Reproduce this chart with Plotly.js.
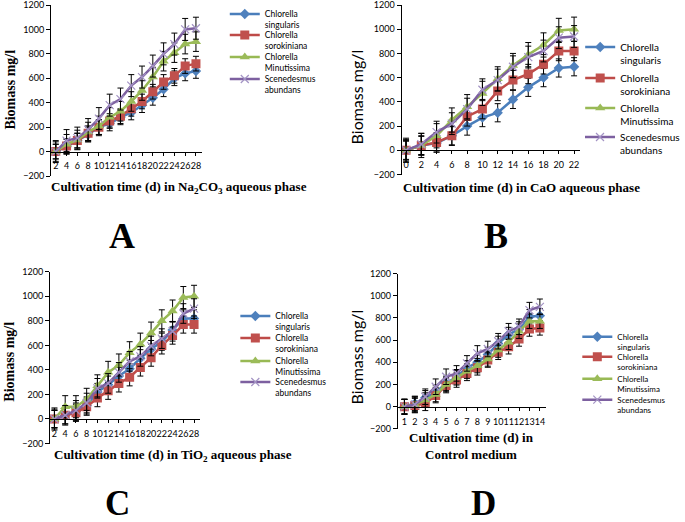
<!DOCTYPE html>
<html>
<head>
<meta charset="utf-8">
<script src="https://cdn.plot.ly/plotly-3.0.1.min.js"></script>
<style>html,body{margin:0;padding:0;background:#fff}#chart{width:685px;height:522px}</style>
</head>
<body>
<div id="chart"></div>
<script>
// ---- data ----
const seriesNames = ['Chlorella<br>singularis', 'Chlorella<br>sorokiniana', 'Chlorella<br>Minutissima', 'Scenedesmus<br>abundans'];

const daysNa = [2, 4, 6, 8, 10, 12, 14, 16, 18, 20, 22, 24, 26, 28];
const naSingularis  = [0, 40, 90, 140, 200, 230, 280, 320, 380, 440, 510, 600, 640, 660];
const naSorokiniana = [0, 45, 90, 150, 200, 250, 290, 350, 410, 490, 570, 620, 700, 720];
const naMinutissima = [0, 60, 95, 160, 210, 280, 330, 410, 500, 610, 740, 810, 880, 900];
const naScenedesmus = [0, 90, 110, 180, 270, 380, 430, 540, 610, 700, 800, 880, 1000, 1010];
const naErrSing = [60, 60, 60, 60, 60, 60, 60, 60, 60, 60, 60, 60, 60, 60];
const naErrSoro = [60, 60, 60, 60, 60, 60, 60, 60, 60, 60, 60, 60, 60, 60];
const naErrMinu = [80, 80, 80, 80, 80, 80, 80, 80, 80, 80, 80, 80, 80, 80];
const naErrScen = [90, 90, 90, 90, 90, 90, 90, 90, 90, 90, 90, 90, 90, 90];

const daysCa = [0, 2, 4, 6, 8, 10, 12, 14, 16, 18, 20, 22];
const caSingularis  = [0, 40, 60, 120, 200, 270, 310, 420, 520, 600, 680, 690];
const caSorokiniana = [0, 40, 65, 120, 280, 340, 490, 580, 630, 710, 820, 820];
const caMinutissima = [0, 40, 120, 250, 360, 470, 590, 700, 790, 870, 990, 1000];
const caScenedesmus = [0, 50, 150, 220, 340, 500, 580, 690, 770, 820, 930, 940];
const caErrSing = [75, 75, 75, 75, 75, 75, 75, 75, 75, 75, 75, 75];
const caErrSoro = [80, 80, 80, 80, 80, 80, 80, 80, 80, 80, 80, 80];
const caErrMinu = [100, 100, 100, 100, 100, 100, 100, 100, 100, 100, 100, 100];
const caErrScen = [90, 90, 90, 90, 90, 90, 90, 90, 90, 90, 90, 90];

const daysTi = [2, 4, 6, 8, 10, 12, 14, 16, 18, 20, 22, 24, 26, 28];
const tiSingularis  = [0, 30, 60, 110, 220, 280, 350, 410, 495, 570, 630, 725, 820, 820];
const tiSorokiniana = [0, 30, 50, 100, 170, 230, 290, 340, 420, 500, 600, 680, 770, 770];
const tiMinutissima = [0, 100, 100, 160, 270, 380, 440, 540, 610, 700, 800, 880, 990, 1000];
const tiScenedesmus = [0, 30, 70, 130, 250, 290, 380, 470, 510, 595, 655, 715, 860, 900];
const tiErrSing = [70, 70, 70, 70, 70, 70, 70, 70, 70, 70, 70, 70, 70, 70];
const tiErrSoro = [70, 70, 70, 70, 70, 70, 70, 70, 70, 70, 70, 70, 70, 70];
const tiErrMinu = [90, 90, 90, 90, 90, 90, 90, 90, 90, 90, 90, 90, 90, 90];
const tiErrScen = [80, 80, 80, 80, 80, 80, 80, 80, 80, 80, 80, 80, 80, 80];

const daysCt = [1, 2, 3, 4, 5, 6, 7, 8, 9, 10, 11, 12, 13, 14];
const ctSingularis  = [0, 30, 80, 130, 210, 270, 350, 400, 470, 570, 650, 700, 810, 820];
const ctSorokiniana = [0, 10, 30, 100, 190, 240, 300, 350, 420, 490, 540, 610, 700, 710];
const ctMinutissima = [0, 20, 60, 110, 200, 260, 320, 370, 430, 510, 580, 680, 770, 770];
const ctScenedesmus = [0, 20, 90, 180, 270, 300, 390, 480, 520, 590, 680, 720, 870, 900];
const ctErrSing = [65, 65, 65, 65, 65, 65, 65, 65, 65, 65, 65, 65, 65, 65];
const ctErrSoro = [65, 65, 65, 65, 65, 65, 65, 65, 65, 65, 65, 65, 65, 65];
const ctErrMinu = [65, 65, 65, 65, 65, 65, 65, 65, 65, 65, 65, 65, 65, 65];
const ctErrScen = [70, 70, 70, 70, 70, 70, 70, 70, 70, 70, 70, 70, 70, 70];

// ---- styles ----
const W = 685, H = 522;
const fx = p => p / W;
const fy = p => 1 - p / H;
const lineColors = ['#4A7EBB', '#BE4B48', '#98B954', '#7D60A0'];
const markerStyles = [
  {symbol: 'diamond', size: 8, color: '#4F81BD', line: {width: 0}},
  {symbol: 'square', size: 9, color: '#C0504D', line: {width: 0}},
  {symbol: 'triangle-up', size: 9, color: '#9BBB59', line: {width: 0}},
  {symbol: 'x-thin', size: 8, color: '#A393C4', line: {width: 1.2, color: '#A393C4'}}
];

let legendCount = 1;
function mk(x, y, err, i, xa, ya) {
  legendCount += 1;
  return {
    type: 'scatter', mode: 'lines+markers', x: x, y: y, name: seriesNames[i],
    xaxis: xa, yaxis: ya, legend: 'legend' + legendCount,
    line: {color: lineColors[i], width: 2.5},
    marker: markerStyles[i],
    error_y: {type: 'data', array: err, visible: true, color: '#000', thickness: 1, width: 3}
  };
}

const traces = [
  mk(daysNa, naSingularis, naErrSing, 0, 'x', 'y'),
  mk(daysNa, naSorokiniana, naErrSoro, 1, 'x', 'y'),
  mk(daysNa, naMinutissima, naErrMinu, 2, 'x', 'y'),
  mk(daysNa, naScenedesmus, naErrScen, 3, 'x', 'y'),
  mk(daysCa, caSingularis, caErrSing, 0, 'x2', 'y2'),
  mk(daysCa, caSorokiniana, caErrSoro, 1, 'x2', 'y2'),
  mk(daysCa, caMinutissima, caErrMinu, 2, 'x2', 'y2'),
  mk(daysCa, caScenedesmus, caErrScen, 3, 'x2', 'y2'),
  mk(daysTi, tiSingularis, tiErrSing, 0, 'x3', 'y3'),
  mk(daysTi, tiSorokiniana, tiErrSoro, 1, 'x3', 'y3'),
  mk(daysTi, tiMinutissima, tiErrMinu, 2, 'x3', 'y3'),
  mk(daysTi, tiScenedesmus, tiErrScen, 3, 'x3', 'y3'),
  mk(daysCt, ctSingularis, ctErrSing, 0, 'x4', 'y4'),
  mk(daysCt, ctSorokiniana, ctErrSoro, 1, 'x4', 'y4'),
  mk(daysCt, ctMinutissima, ctErrMinu, 2, 'x4', 'y4'),
  mk(daysCt, ctScenedesmus, ctErrScen, 3, 'x4', 'y4')
];

const tickFont = {family: 'Lato, Liberation Sans, sans-serif', size: 9, color: '#000'};
const YMIN = -200, YMAX = 1200;

function yAx(top, bottom, anchor) {
  return {
    domain: [fy(bottom), fy(top)], range: [YMIN, YMAX], dtick: 200, anchor: anchor,
    showgrid: false, zeroline: false, showline: true, linecolor: '#000', linewidth: 1,
    ticks: 'outside', ticklen: 4, tickcolor: '#000', tickfont: tickFont,
    ticklabeloverflow: 'allow', fixedrange: true
  };
}
function xAx(left, right, range, dtick, top, bottom) {
  const d0 = fy(bottom), d1 = fy(top);
  return {
    domain: [fx(left), fx(right)], range: range, dtick: dtick, anchor: 'free',
    position: d0 + (d1 - d0) * (0 - YMIN) / (YMAX - YMIN),
    showgrid: false, zeroline: false, showline: true, linecolor: '#000', linewidth: 1,
    ticks: 'outside', ticklen: 3, tickcolor: '#000', tickfont: tickFont, tickangle: 0,
    ticklabelstandoff: 3, ticklabeloverflow: 'allow', fixedrange: true
  };
}

const serifBold = {family: 'Liberation Serif, Times New Roman, serif', size: 13, color: '#000', weight: 700};
const sansTitle = {family: 'Lato, Liberation Sans, sans-serif', size: 16, color: '#000'};

function ann(text, xp, yp, font, angle) {
  return {text: text, x: fx(xp), y: fy(yp), xref: 'paper', yref: 'paper',
    xanchor: 'center', yanchor: 'middle', showarrow: false, font: font, textangle: angle || 0};
}

function legendCfg(xp, yp, size) {
  return {x: fx(xp), y: fy(yp), xanchor: 'left', yanchor: 'top', bgcolor: 'rgba(0,0,0,0)',
    borderwidth: 0, valign: 'top', itemclick: false, itemdoubleclick: false,
    font: {family: 'Lato, Liberation Sans, sans-serif', size: size, color: '#000'}};
}

const layout = {
  width: W, height: H, margin: {l: 0, r: 0, t: 0, b: 0},
  paper_bgcolor: '#fff', plot_bgcolor: 'rgba(0,0,0,0)', showlegend: true,
  xaxis:  xAx(53, 210, [1.1, 29.07], 2, 5, 176),
  yaxis:  yAx(5, 176, 'x'),
  xaxis2: xAx(418, 604, [-0.59, 22.8], 2, 5, 174.5),
  yaxis2: yAx(5, 174.5, 'x2'),
  xaxis3: xAx(52, 208, [1.16, 29.07], 2, 271.8, 443.5),
  yaxis3: yAx(271.8, 443.5, 'x3'),
  xaxis4: xAx(414, 568, [0.35, 14.55], 1, 273.5, 428.9),
  yaxis4: yAx(273.5, 428.9, 'x4'),
  // one legend per entry so the spacing can follow the reference
  legend2:  legendCfg(234, 2, 8.5),
  legend3:  legendCfg(234, 23, 8.5),
  legend4:  legendCfg(234, 45, 8.5),
  legend5:  legendCfg(234, 67, 8.5),
  legend6:  legendCfg(604, 34, 10),
  legend7:  legendCfg(604, 65, 10),
  legend8:  legendCfg(604, 95, 10),
  legend9:  legendCfg(604, 124, 10),
  legend10: legendCfg(245, 304, 8.5),
  legend11: legendCfg(245, 326, 8.5),
  legend12: legendCfg(245, 349, 8.5),
  legend13: legendCfg(245, 370, 8.5),
  legend14: legendCfg(601, 325, 8),
  legend15: legendCfg(601, 345, 8),
  legend16: legendCfg(601, 367, 8),
  legend17: legendCfg(601, 388, 8),
  annotations: [
    ann('Cultivation time (d) in Na<sub>2</sub>CO<sub>3</sub> aqueous phase', 186, 188, serifBold),
    ann('Cultivation time (d) in CaO aqueous phase', 543, 187, serifBold),
    ann('Cultivation time (d) in TiO<sub>2</sub> aqueous phase', 180, 455, serifBold),
    ann('Cultivation time (d) in<br>Control medium', 491, 446, serifBold),
    ann('Biomass mg/l', 10, 90, Object.assign({}, serifBold, {size: 14}), -90),
    ann('Biomass mg/l', 371, 97, sansTitle, -90),
    ann('Biomass mg/l', 9, 362, Object.assign({}, serifBold, {size: 14}), -90),
    ann('Biomass mg/l', 371, 357, sansTitle, -90),
    ann('A', 127, 236, Object.assign({}, serifBold, {size: 36})),
    ann('B', 516, 236, Object.assign({}, serifBold, {size: 36})),
    ann('C', 122, 503, Object.assign({}, serifBold, {size: 35})),
    ann('D', 503, 503, Object.assign({}, serifBold, {size: 35}))
  ]
};

Plotly.newPlot('chart', traces, layout, {displayModeBar: false, staticPlot: true});
</script>
</body>
</html>
